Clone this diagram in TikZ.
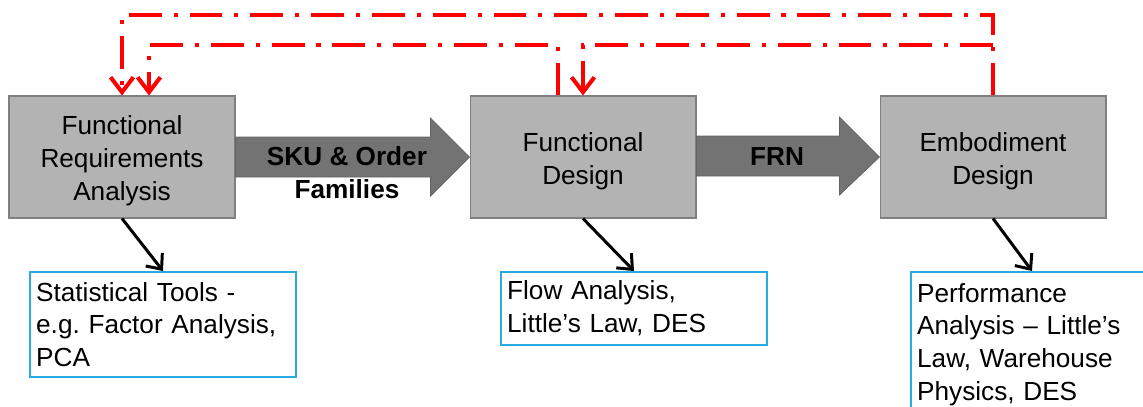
\documentclass[tikz,border=0pt]{standalone}
\usepackage{fontspec}
\setmainfont{Liberation Sans}
\usetikzlibrary{arrows.meta,calc}
\frenchspacing

\definecolor{boxgray}{RGB}{179,179,179}
\definecolor{edgegray}{RGB}{128,128,128}
\definecolor{shaftgray}{RGB}{115,115,115}
\definecolor{toolblue}{RGB}{41,171,226}

% extra room above the first line of a stage box
\newcommand{\toprow}{\rule{0pt}{15.4pt}}

\begin{document}
\begin{tikzpicture}[x=0.02cm, y=-0.02cm,
    stage/.style={draw=edgegray, fill=boxgray, line width=0.6pt, minimum width=4.52cm, minimum height=2.44cm, inner sep=0pt, align=center},
    tool/.style={draw=toolblue, line width=1.2pt, anchor=north, align=left, inner xsep=3.5pt, inner ysep=0pt},
    bigarrow/.style={fill=shaftgray, draw=shaftgray!85!black, line width=0.4pt},
    feedback/.style={red, line width=2.3pt, dash pattern=on 18.7pt off 6.8pt on 2.3pt off 6.8pt, -{Straight Barb[length=8.5pt,width=13pt]}},
    pointer/.style={black, line width=1.7pt, -{Straight Barb[length=7pt,width=12pt]}},
    font=\fontsize{14.9}{18.7}\selectfont]
    \useasboundingbox (0,0) rectangle (1143,406);

    % Design stages
    \node[stage] (req) at (122,157) {\toprow Functional\\Requirements\\Analysis};
    \node[stage] (fdes) at (583,157) {\toprow Functional\\Design};
    \node[stage] (edes) at (993,157) {\toprow Embodiment\\Design};

    % Fat arrows between stages
    \fill[bigarrow] ($(req.east)+(0,-20)$) -- ($(fdes.west)+(-39,-20)$) -- ($(fdes.west)+(-39,-39)$) -- (fdes.west)
        -- ($(fdes.west)+(-39,39)$) -- ($(fdes.west)+(-39,20)$) -- ($(req.east)+(0,20)$) -- cycle;
    \fill[bigarrow] ($(fdes.east)+(0,-21)$) -- ($(edes.west)+(-40,-21)$) -- ($(edes.west)+(-40,-40)$) -- (edes.west)
        -- ($(edes.west)+(-40,38)$) -- ($(edes.west)+(-40,19)$) -- ($(fdes.east)+(0,19)$) -- cycle;
    \node[font=\fontsize{14.9}{18.7}\selectfont\bfseries, align=center] (sku) at (347,172.5) {SKU \& Order\\Families};
    \node[font=\fontsize{14.9}{18.7}\selectfont\bfseries] (frn) at (777,156) {FRN};

    % Tools
    \node[tool, text width=5.32cm-7pt, minimum height=2.1cm] (stat) at (163,271) {Statistical Tools -\\e.g. Factor Analysis,\\PCA};
    \node[tool, text width=5.32cm-7pt, minimum height=1.46cm] (flow) at (634,271) {Flow Analysis,\\Little's Law, DES};
    \node[tool, text width=4.84cm-7pt, minimum height=2.9cm] (perf) at (1032,271) {Performance\\Analysis -- Little's\\Law, Warehouse\\Physics, DES};
    \draw[pointer] (req.south) -- (stat.north);
    \draw[pointer] (fdes.south) -- (flow.north);
    \draw[pointer] (edes.south) -- (perf.north);

    % Feedback loops
    \coordinate (top) at (0,15);
    \coordinate (mid) at (0,45);
    \coordinate (fd out) at ($(fdes.north)+(-25,0)$);
    \coordinate (rq in) at ($(req.north)+(27,0)$);
    \draw[feedback] (edes.north) |- (top -| req.north) -- (req.north);
    \draw[feedback] (mid -| edes.north) -| (fdes.north);
    \draw[feedback] (fd out) |- (mid -| rq in) -- (rq in);
\end{tikzpicture}
\end{document}
